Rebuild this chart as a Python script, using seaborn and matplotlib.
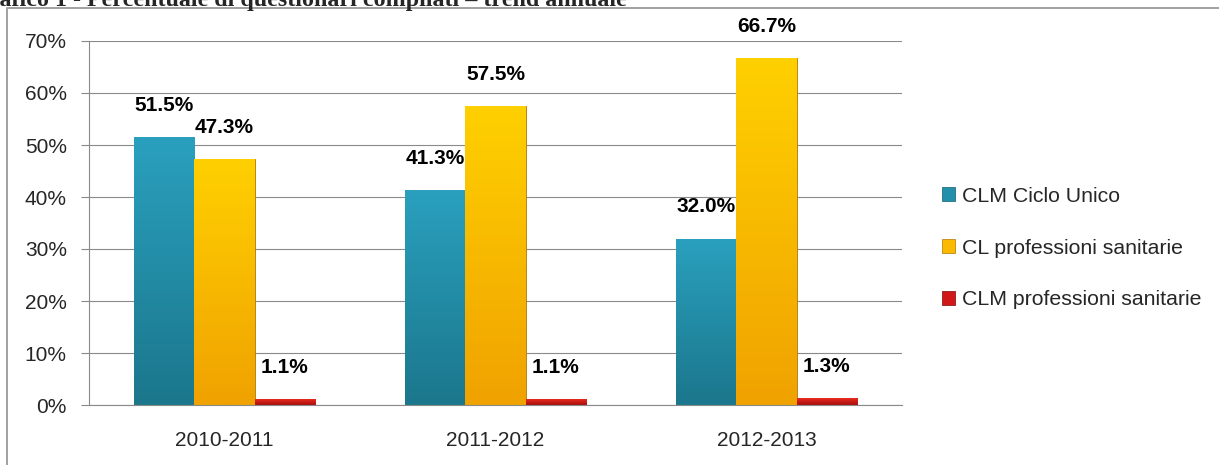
import numpy as np
import pandas as pd
import matplotlib
matplotlib.use("Agg")
import matplotlib.pyplot as plt
import seaborn as sns
from matplotlib.patches import Patch
from matplotlib.lines import Line2D
from matplotlib.ticker import PercentFormatter, FixedLocator
from matplotlib.colors import LinearSegmentedColormap

#Data
anni = ["2010-2011", "2011-2012", "2012-2013"]
corsi = ["CLM Ciclo Unico", "CL professioni sanitarie", "CLM professioni sanitarie"]
clm_ciclo_unico = [0.515, 0.413, 0.320]
cl_prof_san = [0.473, 0.575, 0.667]
clm_prof_san = [0.011, 0.011, 0.013]
titolo = "Grafico 1 - Percentuale di questionari compilati – trend annuale"

df = pd.DataFrame({
    "anno": anni * 3,
    "corso": [corsi[0]] * 3 + [corsi[1]] * 3 + [corsi[2]] * 3,
    "valore": clm_ciclo_unico + cl_prof_san + clm_prof_san,
})

#Colours (top, bottom of the gradient)
base = {corsi[0]: "#2390AC", corsi[1]: "#FBB900", corsi[2]: "#D01818"}
grad = {corsi[0]: ("#2AA0BE", "#1B778C"),
        corsi[1]: ("#FFD000", "#F0A200"),
        corsi[2]: ("#E82A20", "#A80E0E")}
edge = {corsi[0]: "#135a6a", corsi[1]: "#b07800", corsi[2]: "#7a0808"}

sns.set_style("white")
plt.rcParams["font.family"] = ["Liberation Sans", "DejaVu Sans"]

fig = plt.figure(figsize=(12.19, 4.65), dpi=100)
ax = fig.add_axes([89 / 1219, 1 - 405 / 465, (902 - 89) / 1219, (405 - 41) / 465])

sns.barplot(data=df, x="anno", y="valore", hue="corso", palette=base,
            width=0.665, saturation=1, ax=ax, legend=False)

#gradient fill on each bar
for cont, corso in zip(ax.containers, corsi):
    cmap = LinearSegmentedColormap.from_list(corso, [grad[corso][1], grad[corso][0]])
    for bar in cont:
        bar.set_edgecolor(edge[corso])
        bar.set_linewidth(0.6)
        x0, y0 = bar.get_x(), bar.get_y()
        w, h = bar.get_width(), bar.get_height()
        img = ax.imshow(np.linspace(0, 1, 100).reshape(-1, 1), cmap=cmap,
                        extent=[x0, x0 + w, y0, y0 + h], origin="lower",
                        aspect="auto", zorder=bar.get_zorder() + 0.1)
        img.set_clip_path(bar)
    ax.bar_label(cont, labels=[f"{v * 100:.1f}%" for v in cont.datavalues],
                 padding=16, fontsize=15, fontweight="bold", color="black")

ax.set_xlim(-0.5, 2.5)
ax.set_ylim(0, 0.70)
ax.set_yticks(np.arange(0, 0.71, 0.10))
ax.yaxis.set_major_formatter(PercentFormatter(1.0, decimals=0))
ax.grid(axis="y", color="#8a8a8a", linewidth=0.8)
ax.set_axisbelow(True)
ax.set_xlabel("")
ax.set_ylabel("")

for s in ["top", "right"]:
    ax.spines[s].set_visible(False)
for s in ["left", "bottom"]:
    ax.spines[s].set_color("#8a8a8a")
    ax.spines[s].set_linewidth(0.8)

ax.xaxis.set_minor_locator(FixedLocator([-0.5, 0.5, 1.5, 2.5]))
ax.tick_params(axis="x", which="major", length=0, pad=19, labelsize=15)
ax.tick_params(axis="x", which="minor", length=6, width=0.8, color="#8a8a8a", direction="out")
ax.tick_params(axis="y", length=6, width=0.8, color="#8a8a8a", direction="out",
               pad=10, labelsize=15, left=True)

handles = [Patch(facecolor=base[c], edgecolor=edge[c], linewidth=0.5) for c in corsi]
fig.legend(handles, corsi, loc="center left", bbox_to_anchor=(923 / 1219, 1 - 248 / 465),
           frameon=False, fontsize=15.3, handlelength=0.6, handleheight=0.6,
           handletextpad=0.35, labelspacing=1.55)

#document frame and cut title
fig.add_artist(Line2D([7 / 1219, 7 / 1219, 1], [0, 1 - 8.5 / 465, 1 - 8.5 / 465],
                      color="#9a9a9a", linewidth=1.3, transform=fig.transFigure))
fig.text(627 / 1219, 1 - 6 / 465, titolo, ha="right", va="baseline",
         fontsize=17.3, fontweight="bold", family=["Liberation Serif", "DejaVu Serif"])

fig.savefig("out.png", dpi=100)
